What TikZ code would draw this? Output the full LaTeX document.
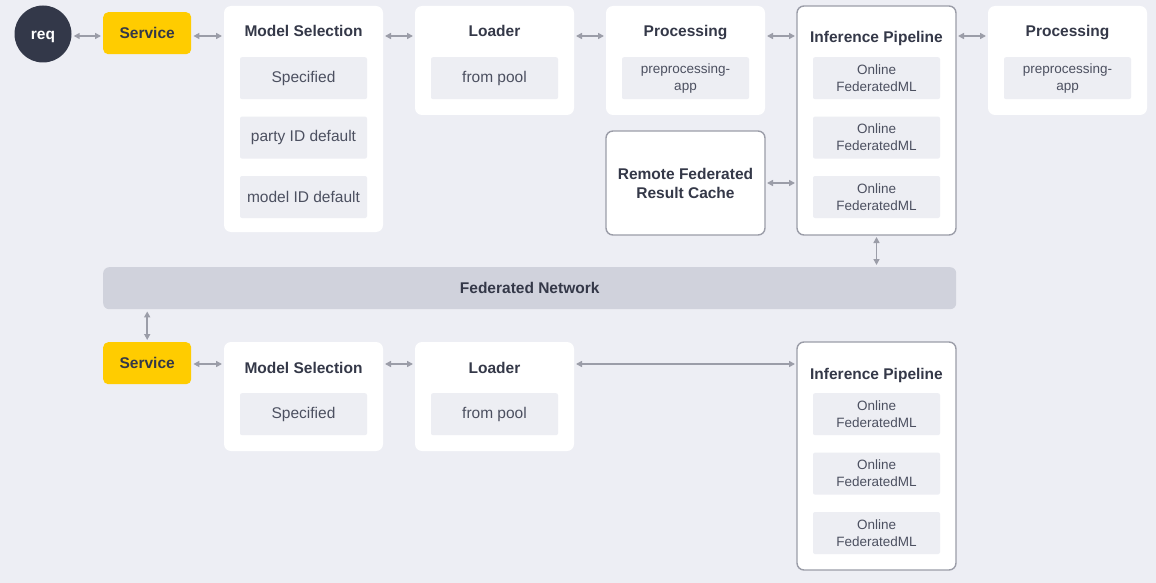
\documentclass[tikz,border=0pt]{standalone}
\usepackage{fontspec}
\setmainfont{Liberation Sans}
\usetikzlibrary{%
	positioning,%
	arrows.meta,%
	calc
}
\definecolor{bgcol}{HTML}{EDEEF4}
\definecolor{itemgray}{HTML}{EDEEF3}
\definecolor{netgray}{HTML}{D0D2DC}
\definecolor{linegray}{HTML}{9B9DA8}
\definecolor{darktext}{HTML}{343848}
\definecolor{itemtext}{HTML}{4C5060}
\definecolor{reqblue}{HTML}{333849}
\definecolor{servyellow}{HTML}{FFCC00}

\tikzset{
	panel/.style={fill=white, rounded corners=7pt, minimum width=159pt, anchor=north west, inner sep=0pt, outer sep=0pt},
	framed/.style={panel, draw=linegray, line width=1.4pt},
	heading/.style={font=\bfseries\fontsize{15.5}{19}\selectfont, text=darktext, align=center, inner sep=0pt},
	item/.style={fill=itemgray, rounded corners=2pt, minimum width=127pt, minimum height=42pt, inner sep=0pt, font=\fontsize{15.5}{18}\selectfont, text=itemtext, align=center},
	smallitem/.style={item, font=\fontsize{13.5}{17}\selectfont},
	service/.style={fill=servyellow, rounded corners=5pt, minimum width=88pt, minimum height=42pt, anchor=north west, inner sep=0pt, font=\bfseries\fontsize{15.5}{18}\selectfont, text=darktext},
	link/.style={{Triangle[length=6pt,width=6pt]}-{Triangle[length=6pt,width=6pt]}, draw=linegray, line width=1.5pt, shorten <=2pt, shorten >=2pt}
}

\begin{document}
\begin{tikzpicture}[x=1pt,y=-1pt]
	% Canvas
	\useasboundingbox[fill=bgcol] (0,0) rectangle (1156,583);
	\coordinate (row1) at (0,36);
	\coordinate (row2) at (0,364);
	
	% Top row
	\node[circle, fill=reqblue, minimum size=57pt, inner sep=0pt, text=white, text height=12pt, text depth=0pt, font=\bfseries\fontsize{15.5}{18}\selectfont] (req) at (43,34) {req};
	\node[service] (svc) at (103,12) {Service};
	
	\node[panel, minimum height=226pt] (ms) at (224,6) {};
	\node[heading, anchor=base] at ([yshift=-31pt]ms.north) {Model Selection};
	\node[item, below=51pt of ms.north] (ms1) {Specified};
	\node[item, below=17pt of ms1] (ms2) {party ID default};
	\node[item, below=17pt of ms2] (ms3) {model ID default};
	
	\node[panel, minimum height=109pt] (ld) at (415,6) {};
	\node[heading, anchor=base] at ([yshift=-31pt]ld.north) {Loader};
	\node[item, below=51pt of ld.north] (ld1) {from pool};
	
	\node[panel, minimum height=109pt] (pre) at (606,6) {};
	\node[heading, anchor=base] at ([yshift=-31pt]pre.north) {Processing};
	\node[smallitem, below=51pt of pre.north] (pre1) {preprocessing-\\app};
	
	\node[framed, minimum height=229pt] (ip) at (797,6) {};
	\node[heading, anchor=base] at ([yshift=-37pt]ip.north) {Inference Pipeline};
	\node[smallitem, below=51pt of ip.north] (ip1) {Online\\FederatedML};
	\node[smallitem, below=17pt of ip1] (ip2) {Online\\FederatedML};
	\node[smallitem, below=17pt of ip2] (ip3) {Online\\FederatedML};
	
	\node[panel, minimum height=109pt] (post) at (988,6) {};
	\node[heading, anchor=base] at ([yshift=-31pt]post.north) {Processing};
	\node[smallitem, below=51pt of post.north] (post1) {preprocessing-\\app};
	
	% Cache
	\node[framed, minimum height=104pt] (cache) at (606,131) {};
	\node[heading] at (cache.center) {Remote Federated\\Result Cache};
	
	% Network
	\node[fill=netgray, rounded corners=6pt, minimum width=853pt, minimum height=42pt, anchor=north west, inner sep=0pt, font=\bfseries\fontsize{15.5}{18}\selectfont, text=darktext] (net) at (103,267) {Federated Network};
	
	% Bottom row
	\node[service] (svcb) at (103,342) {Service};
	
	\node[panel, minimum height=109pt] (msb) at (224,342) {};
	\node[heading, anchor=base] at ([yshift=-31pt]msb.north) {Model Selection};
	\node[item, below=51pt of msb.north] (msb1) {Specified};
	
	\node[panel, minimum height=109pt] (ldb) at (415,342) {};
	\node[heading, anchor=base] at ([yshift=-31pt]ldb.north) {Loader};
	\node[item, below=51pt of ldb.north] (ldb1) {from pool};
	
	\node[framed, minimum height=228pt] (ipb) at (797,342) {};
	\node[heading, anchor=base] at ([yshift=-37pt]ipb.north) {Inference Pipeline};
	\node[smallitem, below=51pt of ipb.north] (ipb1) {Online\\FederatedML};
	\node[smallitem, below=17pt of ipb1] (ipb2) {Online\\FederatedML};
	\node[smallitem, below=17pt of ipb2] (ipb3) {Online\\FederatedML};
	
	% Connectors
	\draw[link] (req.east |- row1) -- (svc.west |- row1);
	\draw[link] (svc.east |- row1) -- (ms.west |- row1);
	\draw[link] (ms.east |- row1) -- (ld.west |- row1);
	\draw[link] (ld.east |- row1) -- (pre.west |- row1);
	\draw[link] (pre.east |- row1) -- (ip.west |- row1);
	\draw[link] (ip.east |- row1) -- (post.west |- row1);
	\draw[link] (cache.east) -- (cache.east -| ip.west);
	\draw[link] (ip.south) -- (ip.south |- net.north);
	\draw[link] (net.south -| svcb.north) -- (svcb.north);
	\draw[link] (svcb.east |- row2) -- (msb.west |- row2);
	\draw[link] (msb.east |- row2) -- (ldb.west |- row2);
	\draw[link] (ldb.east |- row2) -- (ipb.west |- row2);
\end{tikzpicture}
\end{document}
